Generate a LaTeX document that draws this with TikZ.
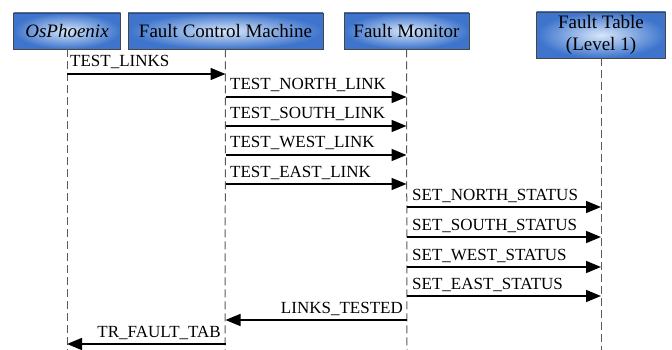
\documentclass[tikz,border=0pt]{standalone}
\usepackage{fontspec}
\setmainfont{Liberation Serif}
\usetikzlibrary{arrows.meta,shadings}
\definecolor{boxedge}{RGB}{62,116,204}
\definecolor{boxmid}{RGB}{214,230,250}
\definecolor{boxline}{RGB}{70,70,70}
\definecolor{lifecol}{RGB}{90,90,90}
\tikzset{
  actor/.style={draw=boxline, line width=0.8pt, inner color=boxmid, outer color=boxedge,
    minimum height=36pt, inner sep=0pt, align=center, font=\fontsize{19}{20}\selectfont},
  lifeline/.style={draw=lifecol, line width=1pt, dash pattern=on 8pt off 4pt},
  msg/.style={line width=1.5pt, -{Triangle[length=15pt,width=12pt]}},
  lbl/.style={font=\fontsize{17}{18}\selectfont, inner sep=0pt, anchor=base west},
  lblr/.style={font=\fontsize{17}{18}\selectfont, inner sep=0pt, anchor=base east}
}
\begin{document}
\begin{tikzpicture}[x=1pt,y=-1pt]
\useasboundingbox (0,0) rectangle (672,350);
% lifeline ends at the bottom edge
\coordinate (osE) at (67,350);
\coordinate (fcE) at (225,350);
\coordinate (fmE) at (407,350);
\coordinate (ftE) at (601,350);
% header boxes
\node[actor, minimum width=107pt] (os) at (67,31) {\itshape OsPhoenix};
\node[actor, minimum width=195pt] (fc) at (225.5,31) {Fault Control Machine};
\node[actor, minimum width=125pt] (fm) at (406.5,31) {Fault Monitor};
\node[actor, minimum width=129pt, minimum height=46pt, font=\fontsize{19}{22}\selectfont] (ft) at (601,35) {Fault Table\\(Level 1)};
% lifelines
\draw[lifeline] (os.south) -- (osE);
\draw[lifeline] (fc.south) -- (fcE);
\draw[lifeline] (fm.south) -- (fmE);
\draw[lifeline] (ft.south) -- (ftE);
% messages
\draw[msg] (os.south |- 0,74) -- (fc.south |- 0,74);
\node[lbl] at (70,67) {TEST\_LINKS};
\foreach \y/\t in {97/TEST\_NORTH\_LINK,126/TEST\_SOUTH\_LINK,155/TEST\_WEST\_LINK,184/TEST\_EAST\_LINK}{
  \draw[msg] (fc.south |- 0,\y) -- (fm.south |- 0,\y);
  \node[lbl] at (230,\y-7) {\t};
}
\foreach \y/\t in {207/SET\_NORTH\_STATUS,237/SET\_SOUTH\_STATUS,267/SET\_WEST\_STATUS,296/SET\_EAST\_STATUS}{
  \draw[msg] (fm.south |- 0,\y) -- (ft.south |- 0,\y);
  \node[lbl] at (412,\y-7) {\t};
}
\draw[msg] (fm.south |- 0,320) -- (fc.south |- 0,320);
\node[lblr] at (403,313) {LINKS\_TESTED};
\draw[msg] (fc.south |- 0,344) -- (os.south |- 0,344);
\node[lblr] at (221,337) {TR\_FAULT\_TAB};
\end{tikzpicture}
\end{document}
